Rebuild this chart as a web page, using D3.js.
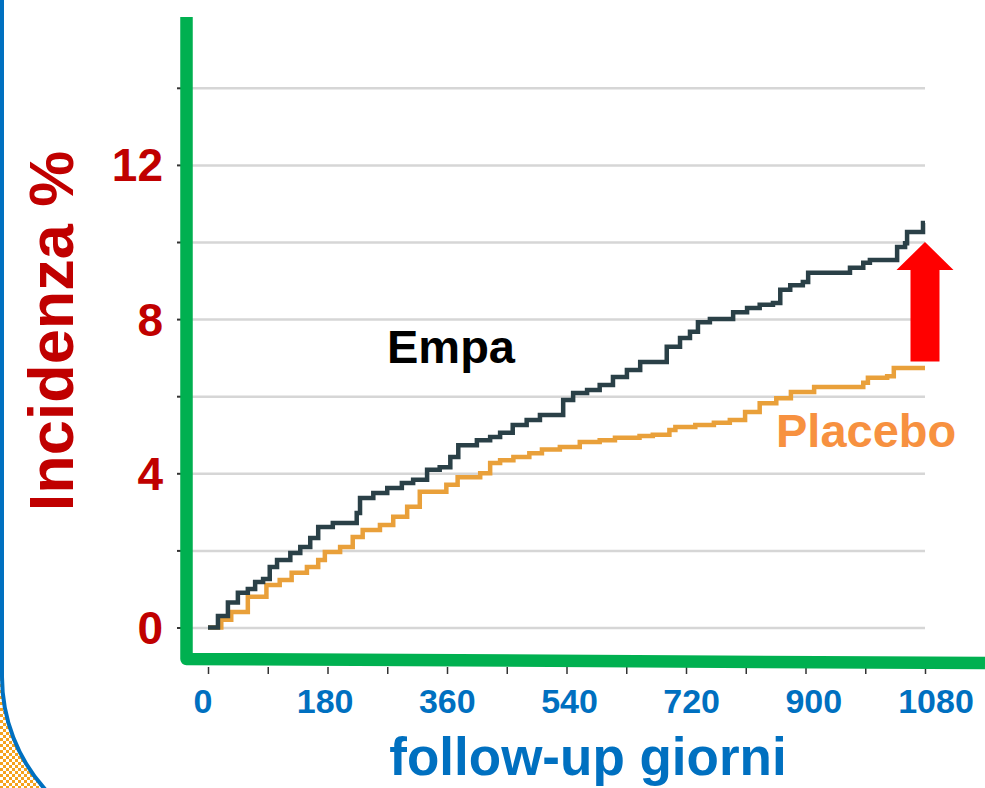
<!DOCTYPE html>
<html>
<head>
<meta charset="utf-8">
<script src="https://cdn.jsdelivr.net/npm/d3@7"></script>
<style>
  body { margin: 0; background: #fff; }
  svg { display: block; font-family: "Liberation Sans", Arial, sans-serif; font-weight: bold; }
</style>
</head>
<body>
<script>
// Kaplan-Meier style cumulative incidence
const empaDays = [0, 15, 30, 45, 60, 71, 83, 93, 104, 124, 139, 154, 166, 188, 224, 229, 249, 270, 292, 309, 330, 349, 365, 377, 405, 425, 440, 459, 480, 500, 535, 550, 571, 590, 610, 631, 651, 691, 711, 726, 738, 756, 791, 812, 831, 851, 862, 877, 896, 904, 967, 987, 997, 1038, 1050, 1053, 1077, 1080];
const empaValues = [0, 0.3, 0.65, 0.9, 1.0, 1.18, 1.26, 1.57, 1.75, 1.93, 2.09, 2.32, 2.61, 2.71, 2.97, 3.36, 3.49, 3.62, 3.75, 3.83, 4.09, 4.16, 4.42, 4.73, 4.86, 4.94, 5.05, 5.25, 5.38, 5.51, 5.9, 6.08, 6.16, 6.29, 6.5, 6.68, 6.89, 7.28, 7.51, 7.67, 7.92, 8.0, 8.18, 8.29, 8.37, 8.42, 8.76, 8.88, 8.96, 9.2, 9.33, 9.46, 9.53, 9.87, 9.97, 10.26, 10.49, 10.49];

const placeboDays = [0, 20, 35, 60, 88, 108, 126, 149, 166, 176, 199, 218, 233, 259, 279, 300, 319, 359, 376, 410, 425, 440, 460, 484, 503, 530, 560, 590, 613, 650, 670, 695, 704, 734, 762, 786, 809, 831, 856, 878, 913, 987, 994, 1023, 1033, 1080];
const placeboValues = [0, 0.2, 0.4, 0.8, 1.1, 1.23, 1.42, 1.57, 1.75, 1.96, 2.09, 2.35, 2.53, 2.66, 2.87, 3.13, 3.52, 3.7, 3.9, 4.0, 4.27, 4.34, 4.42, 4.52, 4.62, 4.68, 4.81, 4.86, 4.92, 4.97, 5.0, 5.12, 5.2, 5.25, 5.31, 5.38, 5.59, 5.82, 5.95, 6.11, 6.24, 6.35, 6.48, 6.52, 6.73, 6.73];

const xTicks = d3.range(0, 1081, 90);
const xTickLabels = [0, 180, 360, 540, 720, 900, 1080];
const yGrid = d3.range(0, 15, 2);
const yTickLabels = [0, 4, 8, 12];

// arrow spans from placebo end up to empa end
const arrowDay = 1080;
const arrowFrom = 6.9;
const arrowTo = 10.0;

const W = 985, H = 788;

const svg = d3.select("body").append("svg")
    .attr("width", W)
    .attr("height", H);

// slide decoration: checker pattern + rounded blue border
const defs = svg.append("defs");
const pat = defs.append("pattern")
    .attr("id", "checker")
    .attr("width", 6).attr("height", 6)
    .attr("patternUnits", "userSpaceOnUse");
pat.append("rect").attr("width", 6).attr("height", 6).attr("fill", "#fff");
pat.append("rect").attr("x", 0).attr("y", 0).attr("width", 3).attr("height", 3).attr("fill", "#f5a21e");
pat.append("rect").attr("x", 3).attr("y", 3).attr("width", 3).attr("height", 3).attr("fill", "#f5a21e");

const R = 168, cx = 170, cy = 677;
const yEnd = H + 2;
const xEnd = cx - Math.sqrt(R * R - (yEnd - cy) * (yEnd - cy));
svg.append("path")
    .attr("d", `M0,${cy} L2,${cy} A${R},${R} 0 0 0 ${xEnd},${yEnd} L0,${yEnd} Z`)
    .attr("fill", "url(#checker)");
svg.append("path")
    .attr("d", `M2,0 L2,${cy} A${R},${R} 0 0 0 ${xEnd},${yEnd}`)
    .attr("fill", "none")
    .attr("stroke", "#0070c0")
    .attr("stroke-width", 4);

// scales
const x = d3.scaleLinear().domain([0, 1080]).range([208, 925]);
const xLab = d3.scaleLinear().domain([0, 1080]).range([203, 936]);
const y = d3.scaleLinear().domain([0, 14]).range([627.5, 87.8]);

// gridlines
svg.append("g")
    .attr("transform", "translate(925,0)")
    .call(d3.axisLeft(y).tickValues(yGrid).tickSize(925 - 192).tickFormat(""))
    .call(g => g.select(".domain").remove())
    .call(g => g.selectAll("line").attr("stroke", "#d6d6d6").attr("stroke-width", 2.5));

// small y ticks left of the green axis
svg.append("g")
    .attr("transform", "translate(181,0)")
    .call(d3.axisLeft(y).tickValues(yGrid).tickSize(4).tickFormat(""))
    .call(g => g.select(".domain").remove())
    .call(g => g.selectAll("line").attr("stroke", "#333").attr("stroke-width", 2));

// x ticks under the green axis
svg.append("g")
    .attr("transform", "translate(0,667)")
    .call(d3.axisBottom(x).tickValues(xTicks).tickSize(7).tickFormat(""))
    .call(g => g.select(".domain").remove())
    .call(g => g.selectAll("line").attr("stroke", "#333").attr("stroke-width", 1.5));

// curves
const line = d3.line()
    .curve(d3.curveStepAfter)
    .x(d => x(d[0]))
    .y(d => y(d[1]));

svg.append("path")
    .datum(d3.zip(placeboDays, placeboValues))
    .attr("d", line)
    .attr("fill", "none")
    .attr("stroke", "#e9a03a")
    .attr("stroke-width", 4.5);

svg.append("path")
    .datum(d3.zip(empaDays, empaValues))
    .attr("d", line)
    .attr("fill", "none")
    .attr("stroke", "#2a4047")
    .attr("stroke-width", 4.5);

// green L axis
svg.append("path")
    .attr("d", "M186.5,17 L186.5,659 L985,663")
    .attr("fill", "none")
    .attr("stroke", "#00b050")
    .attr("stroke-width", 12.5)
    .attr("stroke-linejoin", "round");

// y tick labels
svg.append("g")
    .selectAll("text")
    .data(yTickLabels)
    .join("text")
    .attr("x", 163)
    .attr("y", d => y(d))
    .attr("dy", "0.36em")
    .attr("text-anchor", "end")
    .attr("font-size", 46)
    .attr("fill", "#c00000")
    .text(d => d);

// x tick labels
svg.append("g")
    .selectAll("text")
    .data(xTickLabels)
    .join("text")
    .attr("x", d => xLab(d))
    .attr("y", 713)
    .attr("text-anchor", "middle")
    .attr("font-size", 34)
    .attr("fill", "#0070c0")
    .text(d => d);

// axis titles
svg.append("text")
    .attr("transform", "translate(73,331) rotate(-90)")
    .attr("text-anchor", "middle")
    .attr("font-size", 63)
    .attr("fill", "#c00000")
    .text("Incidenza %");

svg.append("text")
    .attr("x", 588)
    .attr("y", 775)
    .attr("text-anchor", "middle")
    .attr("font-size", 53)
    .attr("fill", "#0070c0")
    .text("follow-up giorni");

// series labels
svg.append("text")
    .attr("x", 387)
    .attr("y", 363)
    .attr("font-size", 47)
    .attr("fill", "#000")
    .text("Empa");

svg.append("text")
    .attr("x", 776)
    .attr("y", 447)
    .attr("font-size", 47)
    .attr("fill", "#f79140")
    .text("Placebo");

// red arrow
const ax = x(arrowDay), arrowTop = y(arrowTo), arrowBot = y(arrowFrom);
const headW = 28.5, headH = 28, shaftW = 14.5;
svg.append("path")
    .attr("d", `M${ax},${arrowTop} L${ax + headW},${arrowTop + headH} L${ax + shaftW},${arrowTop + headH} L${ax + shaftW},${arrowBot} L${ax - shaftW},${arrowBot} L${ax - shaftW},${arrowTop + headH} L${ax - headW},${arrowTop + headH} Z`)
    .attr("fill", "#ff0000");
</script>
</body>
</html>
